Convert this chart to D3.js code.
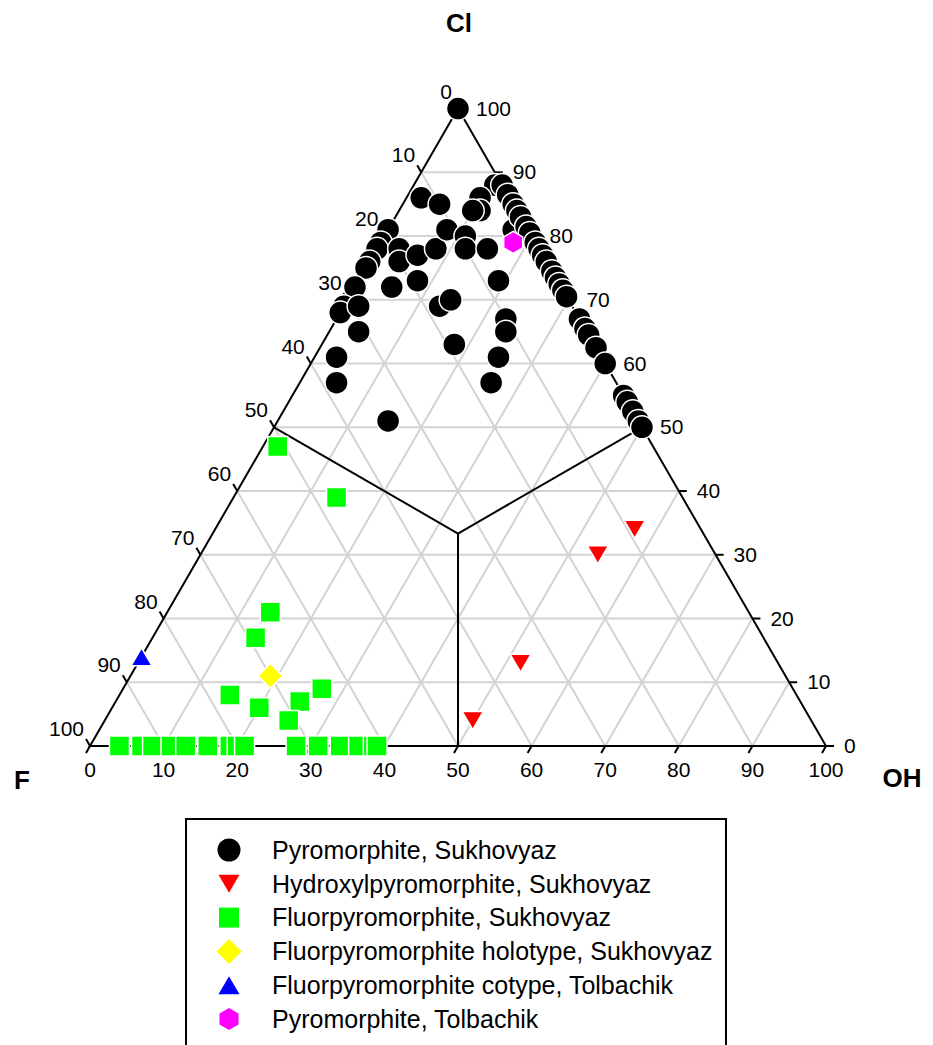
<!DOCTYPE html>
<html>
<head>
<meta charset="utf-8">
<script src="https://cdn.jsdelivr.net/npm/d3@7"></script>
<style>
  body { margin: 0; background: #fff; }
  svg { display: block; font-family: Arial, "Liberation Sans", sans-serif; }
  .grid { stroke: #d3d3d3; stroke-width: 2; }
  .axis { stroke: #000; stroke-width: 2; fill: none; }
  .tick { stroke: #000; stroke-width: 2; }
  .tickLabel { font-size: 21px; fill: #000; }
  .title { font-size: 26px; font-weight: bold; fill: #000; }
  .legend text { font-size: 25px; fill: #000; }
</style>
</head>
<body>
<div id="chart"></div>
<script>
(function() {

  // data: [F, Cl, OH] in percent
  var pyromorphiteSukhovyaz = [
    [0, 100, 0], [12, 86, 2], [10, 85, 5], [1, 88, 11], [4, 86, 10],
    [5, 84, 11], [6, 84, 10], [19, 81, 0], [21, 79, 0], [22, 78, 0],
    [19, 78, 3], [20, 76, 4], [17, 77, 6], [14, 78, 8], [11, 81, 8],
    [9, 80, 11], [10, 78, 12], [7, 78, 15], [2, 81, 17], [24, 76, 0],
    [25, 75, 0], [28, 72, 0], [31, 69, 0], [32, 68, 0], [29, 69, 2],
    [31, 65, 4], [23, 72, 5], [19, 73, 8], [18, 69, 13], [16, 70, 14],
    [19, 63, 18], [8, 73, 19], [10, 67, 23], [11, 65, 24], [14, 61, 25],
    [17, 57, 26], [36, 61, 3], [38, 57, 5], [34, 51, 15],
    [0, 88, 12], [0, 86.5, 13.5], [0, 85, 15], [0, 84, 16], [0, 83, 17],
    [0, 81.5, 18.5], [0, 80.5, 19.5], [0, 79, 21], [0, 78, 22], [0, 77, 23],
    [0, 76, 24], [0, 74.5, 25.5], [0, 73.5, 26.5], [0, 72.5, 27.5], [0, 71.5, 28.5],
    [0, 70.5, 29.5], [0, 67, 33], [0, 65.5, 34.5], [0, 64.5, 35.5], [0, 62.5, 37.5],
    [0, 60, 40], [0, 55, 45], [0, 54, 46], [0, 52.5, 47.5], [0, 51, 49], [0, 50, 50]
  ];
  var hydroxylpyromorphiteSukhovyaz = [
    [9, 34, 57], [16, 30, 54], [35, 13, 52], [46, 4, 50]
  ];
  var fluorpyromorphiteSukhovyaz = [
    [51, 47, 2], [47, 39, 14], [65, 21, 14], [69, 17, 14], [77, 8, 15],
    [74, 6, 20], [68, 7, 25], [64, 9, 27], [71, 4, 25],
    [96, 0, 4], [93, 0, 7], [91.5, 0, 8.5], [89, 0, 11], [87, 0, 13],
    [84, 0, 16], [81, 0, 19], [80, 0, 20], [79, 0, 21],
    [72, 0, 28], [69, 0, 31], [66, 0, 34], [63.5, 0, 36.5], [61.5, 0, 38.5], [61, 0, 39]
  ];
  var fluorHolotype = [[70, 11, 19]];
  var fluorCotypeTolbachik = [[86, 14, 0]];
  var pyromorphiteTolbachik = [[3, 79, 18]];

  var tickValues = [0, 10, 20, 30, 40, 50, 60, 70, 80, 90, 100];
  var gridValues = [10, 20, 30, 40, 50, 60, 70, 80, 90];

  var series = [
    { name: "Pyromorphite, Sukhovyaz", data: pyromorphiteSukhovyaz, shape: "circle", color: "#000000" },
    { name: "Hydroxylpyromorphite, Sukhovyaz", data: hydroxylpyromorphiteSukhovyaz, shape: "triangleDown", color: "#ff0000" },
    { name: "Fluorpyromorphite, Sukhovyaz", data: fluorpyromorphiteSukhovyaz, shape: "square", color: "#00ff00" },
    { name: "Fluorpyromorphite holotype, Sukhovyaz", data: fluorHolotype, shape: "diamond", color: "#ffff00" },
    { name: "Fluorpyromorphite cotype, Tolbachik", data: fluorCotypeTolbachik, shape: "triangleUp", color: "#0000ff" },
    { name: "Pyromorphite, Tolbachik", data: pyromorphiteTolbachik, shape: "hexagon", color: "#ff00ff" }
  ];

  var width = 933, height = 1045;
  // x runs along the F-OH base, y is the Cl height
  var x = d3.scaleLinear().domain([0, 100]).range([90, 826]);
  var y = d3.scaleLinear().domain([0, 100]).range([746, 108.6]);

  var pos = function(d) {
    var s = d[0] + d[1] + d[2];
    var cl = d[1] * 100 / s, oh = d[2] * 100 / s;
    return [x(oh + cl / 2), y(cl)];
  };

  var markerPath = function(shape) {
    var p = d3.path();
    var i, a;
    if (shape === "circle") {
      p.arc(0, 0, 11.5, 0, 2 * Math.PI);
    } else if (shape === "square") {
      p.rect(-10, -10, 20, 20);
    } else if (shape === "triangleDown") {
      p.moveTo(-10.5, -9); p.lineTo(10.5, -9); p.lineTo(0, 9);
    } else if (shape === "triangleUp") {
      p.moveTo(-10.5, 9); p.lineTo(10.5, 9); p.lineTo(0, -9);
    } else if (shape === "diamond") {
      p.moveTo(0, -12.5); p.lineTo(12.5, 0); p.lineTo(0, 12.5); p.lineTo(-12.5, 0);
    } else if (shape === "hexagon") {
      for (i = 0; i < 6; i++) {
        a = Math.PI / 3 * i - Math.PI / 2;
        if (i === 0) p.moveTo(11 * Math.cos(a), 11 * Math.sin(a));
        else p.lineTo(11 * Math.cos(a), 11 * Math.sin(a));
      }
    }
    p.closePath();
    return p.toString();
  };

  var svg = d3.select("#chart").append("svg")
    .attr("width", width)
    .attr("height", height);

  svg.append("rect")
    .attr("width", width)
    .attr("height", height)
    .attr("fill", "#fff");

  // grid
  var gridLines = [];
  gridValues.forEach(function(k) {
    gridLines.push([[100 - k, k, 0], [0, k, 100 - k]]);
    gridLines.push([[100 - k, 0, k], [0, 100 - k, k]]);
    gridLines.push([[k, 100 - k, 0], [k, 0, 100 - k]]);
  });
  svg.append("g").selectAll("line")
    .data(gridLines)
    .enter().append("line")
    .attr("class", "grid")
    .attr("x1", function(d) { return pos(d[0])[0]; })
    .attr("y1", function(d) { return pos(d[0])[1]; })
    .attr("x2", function(d) { return pos(d[1])[0]; })
    .attr("y2", function(d) { return pos(d[1])[1]; });

  // triangle outline
  var corners = [[100, 0, 0], [0, 100, 0], [0, 0, 100]];
  svg.append("path")
    .attr("class", "axis")
    .attr("d", d3.line()(corners.map(pos)) + "Z");

  // field dividers
  var centre = pos([1, 1, 1]);
  [[50, 50, 0], [0, 50, 50], [50, 0, 50]].forEach(function(m) {
    var p = pos(m);
    svg.append("line")
      .attr("class", "tick")
      .attr("x1", centre[0]).attr("y1", centre[1])
      .attr("x2", p[0]).attr("y2", p[1]);
  });

  // ticks and labels
  var tickG = svg.append("g");
  tickValues.forEach(function(t) {
    var b = pos([100 - t, 0, t]);
    tickG.append("line").attr("class", "tick")
      .attr("x1", b[0]).attr("y1", b[1])
      .attr("x2", b[0] - 4).attr("y2", b[1] + 7);
    tickG.append("text").attr("class", "tickLabel")
      .attr("x", b[0]).attr("y", b[1] + 31)
      .attr("text-anchor", "middle")
      .text(t);

    var l = pos([t, 100 - t, 0]);
    tickG.append("line").attr("class", "tick")
      .attr("x1", l[0]).attr("y1", l[1])
      .attr("x2", l[0] - 4).attr("y2", l[1] - 7);
    tickG.append("text").attr("class", "tickLabel")
      .attr("x", l[0] - 6).attr("y", l[1] - 10)
      .attr("text-anchor", "end")
      .text(t);

    var r = pos([0, t, 100 - t]);
    tickG.append("line").attr("class", "tick")
      .attr("x1", r[0]).attr("y1", r[1])
      .attr("x2", r[0] + 8).attr("y2", r[1]);
    tickG.append("text").attr("class", "tickLabel")
      .attr("x", r[0] + 18).attr("y", r[1] + 7)
      .attr("text-anchor", "start")
      .text(t);
  });

  // axis titles
  svg.append("text").attr("class", "title")
    .attr("x", 459).attr("y", 32).attr("text-anchor", "middle").text("Cl");
  svg.append("text").attr("class", "title")
    .attr("x", 22).attr("y", 789).attr("text-anchor", "middle").text("F");
  svg.append("text").attr("class", "title")
    .attr("x", 902).attr("y", 787).attr("text-anchor", "middle").text("OH");

  // markers
  series.forEach(function(s) {
    svg.append("g").selectAll("path")
      .data(s.data)
      .enter().append("path")
      .attr("d", markerPath(s.shape))
      .attr("transform", function(d) { return "translate(" + pos(d) + ")"; })
      .attr("fill", s.color)
      .attr("stroke", "#fff")
      .attr("stroke-width", 1.5);
  });

  // legend
  var legend = svg.append("g").attr("class", "legend");
  legend.append("rect")
    .attr("x", 186).attr("y", 819)
    .attr("width", 540).attr("height", 260)
    .attr("fill", "#fff")
    .attr("stroke", "#000")
    .attr("stroke-width", 2);
  var rows = legend.selectAll("g.row")
    .data(series)
    .enter().append("g")
    .attr("class", "row")
    .attr("transform", function(d, i) { return "translate(0," + (850 + i * 33.8) + ")"; });
  rows.append("path")
    .attr("d", function(d) { return markerPath(d.shape); })
    .attr("transform", "translate(229,0)")
    .attr("fill", function(d) { return d.color; });
  rows.append("text")
    .attr("x", 272)
    .attr("dy", "0.35em")
    .text(function(d) { return d.name; });

})();
</script>
</body>
</html>
